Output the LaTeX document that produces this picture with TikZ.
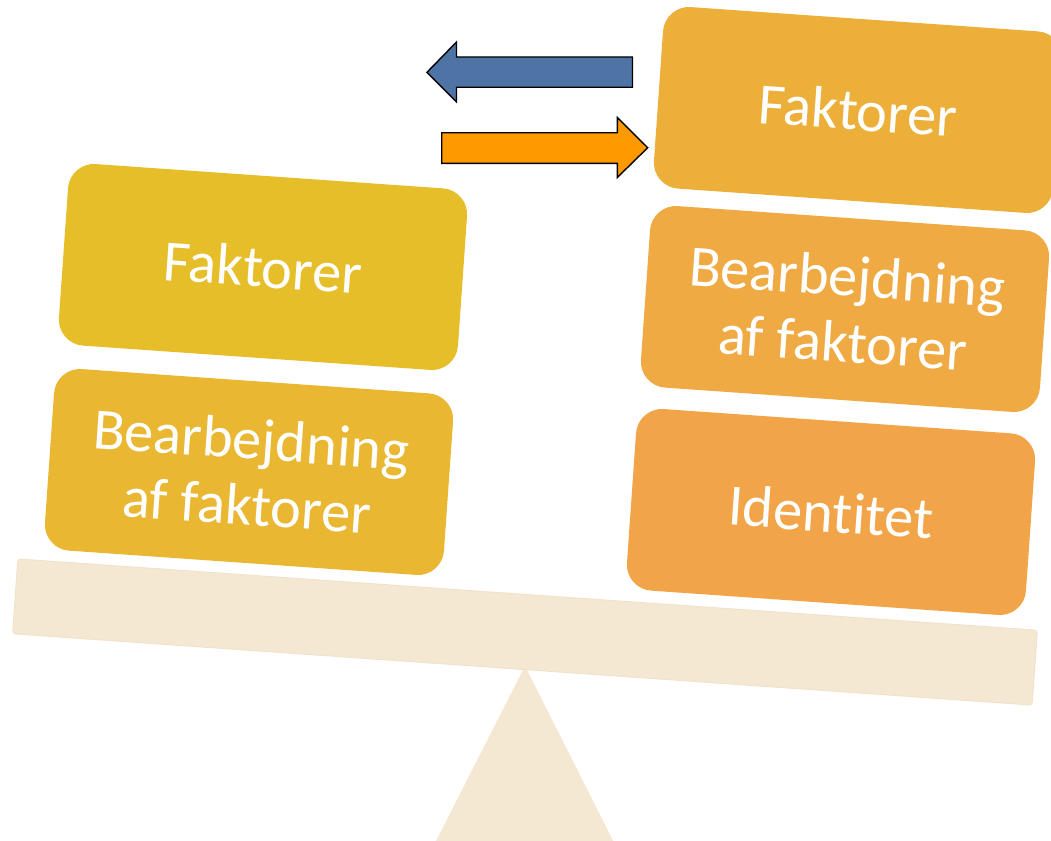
\documentclass[tikz,border=0pt]{standalone}
\usepackage{fontspec}
\setmainfont{Carlito}[Ligatures={NoCommon}]
\definecolor{cLa}{HTML}{E6BE2A}
\definecolor{cLb}{HTML}{EAB733}
\definecolor{cRa}{HTML}{ECB03A}
\definecolor{cRb}{HTML}{EFAA43}
\definecolor{cRc}{HTML}{F2A548}
\definecolor{beige}{HTML}{F5E8D3}
\definecolor{beigeedge}{HTML}{F2E2CA}
\definecolor{blueA}{HTML}{4E74A5}
\definecolor{orangeA}{HTML}{FF9900}
\begin{document}
\begin{tikzpicture}[x=1pt,y=-1pt,
  blockbox/.style={rounded corners=26pt, minimum width=400pt, minimum height=182pt,
    rotate=-4, text=white, align=center, inner sep=0pt,
    font=\fontsize{58.5}{66}\selectfont},
  blockarrow/.style={draw=black, line width=1.4pt, line join=miter}]
\useasboundingbox (0,0) rectangle (1051,840);
\clip (0,0) rectangle (1051,840);
% fulcrum
\path[fill=beige] (525,666) -- (406,900) -- (643,900) -- cycle;
% plank
\node[fill=beige, draw=beigeedge, line width=1pt, rounded corners=3pt,
  minimum width=1022pt, minimum height=75pt, rotate=-4, inner sep=0pt] (plank) at (525,632) {};
% left stack
\node[blockbox, fill=cLa] (L1) at (263,267) {Faktorer};
\node[blockbox, fill=cLb] (L2) at (249,472) {Bearbejdning\\af faktorer};
% right stack
\node[blockbox, fill=cRa] (R1) at (858,110) {Faktorer};
\node[blockbox, fill=cRb] (R2) at (845,309) {Bearbejdning\\af faktorer};
\node[blockbox, fill=cRc] (R3) at (831,512) {Identitet};
% arrows
\draw[blockarrow, fill=blueA] (632.5,57) -- (456.5,57) -- (456.5,42) -- (427,72.3)
  -- (456.5,102) -- (456.5,87.3) -- (632.5,87.3) -- cycle;
\draw[blockarrow, fill=orangeA] (441.7,132.7) -- (617.3,132.7) -- (617.3,117.5) -- (647.7,147.7)
  -- (617.3,177.5) -- (617.3,163.3) -- (441.7,163.3) -- cycle;
\end{tikzpicture}
\end{document}
